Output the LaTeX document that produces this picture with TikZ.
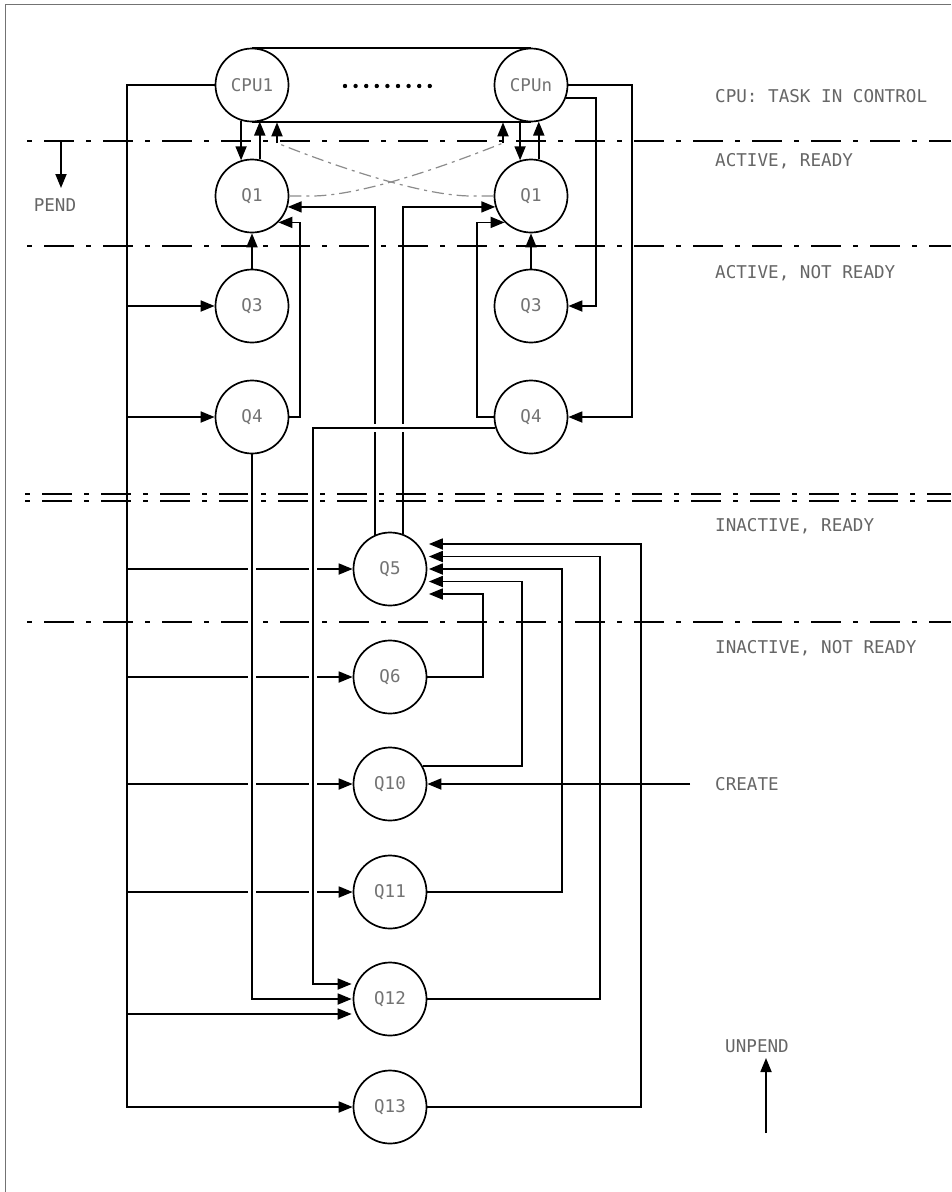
\documentclass[tikz,border=0pt]{standalone}
\usepackage{fontspec}
\setmonofont{DejaVu Sans Mono}
\usetikzlibrary{arrows.meta,calc}
\begin{document}
\begin{tikzpicture}[x=1pt,y=-1pt,
  ln/.style={line width=1.8pt, black},
  arr/.style={ln, -{Triangle[length=14pt,width=11pt]}},
  q/.style={circle, draw, line width=1.7pt, minimum size=73pt, inner sep=0pt, font=\fontsize{17.5}{18}\ttfamily, text=black!55},
  lab/.style={anchor=base west, font=\fontsize{17.6}{18}\ttfamily, text=black!60, inner sep=0pt},
  sep/.style={line width=1.8pt, dash pattern=on 5pt off 12pt on 30pt off 12pt},
  xdash/.style={line width=1.2pt, black!45, dash pattern=on 12pt off 5pt on 3pt off 5pt},
  gap/.style={preaction={draw=white, line width=8pt, -, shorten <=4pt, shorten >=4pt}}
]
\useasboundingbox (0,0) rectangle (951,1192);
\fill[white] (0,0) rectangle (951,1192);
% frame
\draw[black!55, line width=1pt] (5,1192) -- (5,4) -- (951,4);

% separators
\draw[sep] (27,141) -- (951,141);
\draw[sep] (27,246) -- (951,246);
\draw[sep] (25,494) -- (951,494);
\draw[sep] (25,501) -- (951,501);
\draw[sep] (27,622) -- (951,622);

% nodes
\node[q] (CPU1) at (252,85) {CPU1};
\node[q] (CPUn) at (531,85) {CPUn};
\node[q] (Q1L) at (252,196) {Q1};
\node[q] (Q1R) at (531,196) {Q1};
\node[q] (Q3L) at (252,306) {Q3};
\node[q] (Q3R) at (531,306) {Q3};
\node[q] (Q4L) at (252,417) {Q4};
\node[q] (Q4R) at (531,417) {Q4};
\node[q] (Q5) at (390,569) {Q5};
\node[q] (Q6) at (390,677) {Q6};
\node[q] (Q10) at (390,784) {Q10};
\node[q] (Q11) at (390,892) {Q11};
\node[q] (Q12) at (390,999) {Q12};
\node[q] (Q13) at (390,1107) {Q13};

% CPU bar
\draw[ln] (CPU1.north) -- (CPUn.north);
\draw[ln] (CPU1.south) -- (CPUn.south);
\foreach \i in {0,...,8} \fill (345+\i*10.6,86) circle (2.2pt);

% CPU <-> Q1
\draw[arr] (CPU1.-107.5) -- (Q1L.107.5);
\draw[arr] (Q1L.78.9) -- (CPU1.-78.9);
\draw[arr] (CPUn.-107.5) -- (Q1R.107.5);
\draw[arr] (Q1R.78.9) -- (CPUn.-78.9);

% small arrows and crossing dashed lines
\coordinate (xa) at (277,143);
\coordinate (xb) at (503,143);
\draw[arr] (xa) -- (xa |- CPU1.south);
\draw[arr] (xb) -- (xb |- CPUn.south);
\draw[xdash] (Q1L.east) -- ++(22,0) .. controls +(45,0) and +(-70,28) .. (xb);
\draw[xdash] (Q1R.west) -- ++(-22,0) .. controls +(-45,0) and +(70,28) .. (xa);

% Q3 -> Q1
\draw[arr] (Q3L.north) -- (Q1L.south);
\draw[arr] (Q3R.north) -- (Q1R.south);

% Q5 -> Q1
\draw[arr] (Q5.114.3) |- (Q1L.-17.5);
\draw[arr] (Q5.70.8) |- (Q1R.197.5);

% Q4 -> Q1
\draw[arr] (Q4L.east) -- ++(10.5,0) |- (Q1L.-45.4);
\draw[arr] (Q4R.west) -- ++(-16.5,0) |- (Q1R.225.4);

% CPUn -> Q3R, Q4R
\coordinate (v632) at (632,0);
\coordinate (v596) at (596,0);
\draw[arr] (CPUn.east) -| (v632 |- Q4R.east) -- (Q4R.east);
\draw[arr] (CPUn.-20.9) -| (v596 |- Q3R.east) -- (Q3R.east);

% left bus
\coordinate (bus) at (127,0);
\draw[arr] (CPU1.west) -| (bus |- Q13.west) -- (Q13.west);
\foreach \n in {Q3L,Q4L,Q5,Q6,Q10,Q11} \draw[arr] (bus |- \n.west) -- (\n.west);
\path (Q12.west) ++(-1,-15) coordinate (q12a);
\path (Q12.west) ++(-1,0) coordinate (q12b);
\path (Q12.west) ++(-1,15) coordinate (q12c);
\draw[arr] (bus |- q12c) -- (q12c);

% Q4 -> Q12
\coordinate (v313) at (313,0);
\draw[arr,gap] (Q4L.south) |- (q12b);
\draw[arr,gap] (Q4R.197.5) -| (v313 |- q12a) -- (q12a);

% returns into Q5
\path (Q5.east) ++(1.5,-25) coordinate (q5a);
\path (Q5.east) ++(1.5,-12.5) coordinate (q5b);
\path (Q5.east) ++(1.5,0) coordinate (q5c);
\path (Q5.east) ++(1.5,12.5) coordinate (q5d);
\path (Q5.east) ++(1.5,25) coordinate (q5e);
\coordinate (v641) at (641,0);
\coordinate (v600) at (600,0);
\coordinate (v562) at (562,0);
\coordinate (v522) at (522,0);
\coordinate (v483) at (483,0);
\draw[arr] (Q13.east) -| (v641 |- q5a) -- (q5a);
\draw[arr] (Q12.east) -| (v600 |- q5b) -- (q5b);
\draw[arr] (Q11.east) -| (v562 |- q5c) -- (q5c);
\draw[arr] (Q10.29.5) -| (v522 |- q5d) -- (q5d);
\draw[arr] (Q6.east) -| (v483 |- q5e) -- (q5e);

% create
\coordinate (cr) at (690,784);
\draw[arr] (cr) -- (Q10.east);

% labels
\node[lab] (tcpu) at (715,102) {CPU: TASK IN CONTROL};
\node[lab] (tar) at (715,166) {ACTIVE, READY};
\node[lab] (tanr) at (715,278) {ACTIVE, NOT READY};
\node[lab] (tir) at (715,531) {INACTIVE, READY};
\node[lab] (tinr) at (715,653) {INACTIVE, NOT READY};
\node[lab] (tcr) at (715,790) {CREATE};
\node[lab, anchor=base] (pend) at (55,211) {PEND};
\node[lab, anchor=base] (unpend) at (757,1052) {UNPEND};
\coordinate (p1) at (61,140);
\coordinate (p2) at (61,188);
\draw[arr] (p1) -- (p2);
\coordinate (u1) at (766,1133);
\coordinate (u2) at (766,1058);
\draw[arr] (u1) -- (u2);
\end{tikzpicture}
\end{document}
